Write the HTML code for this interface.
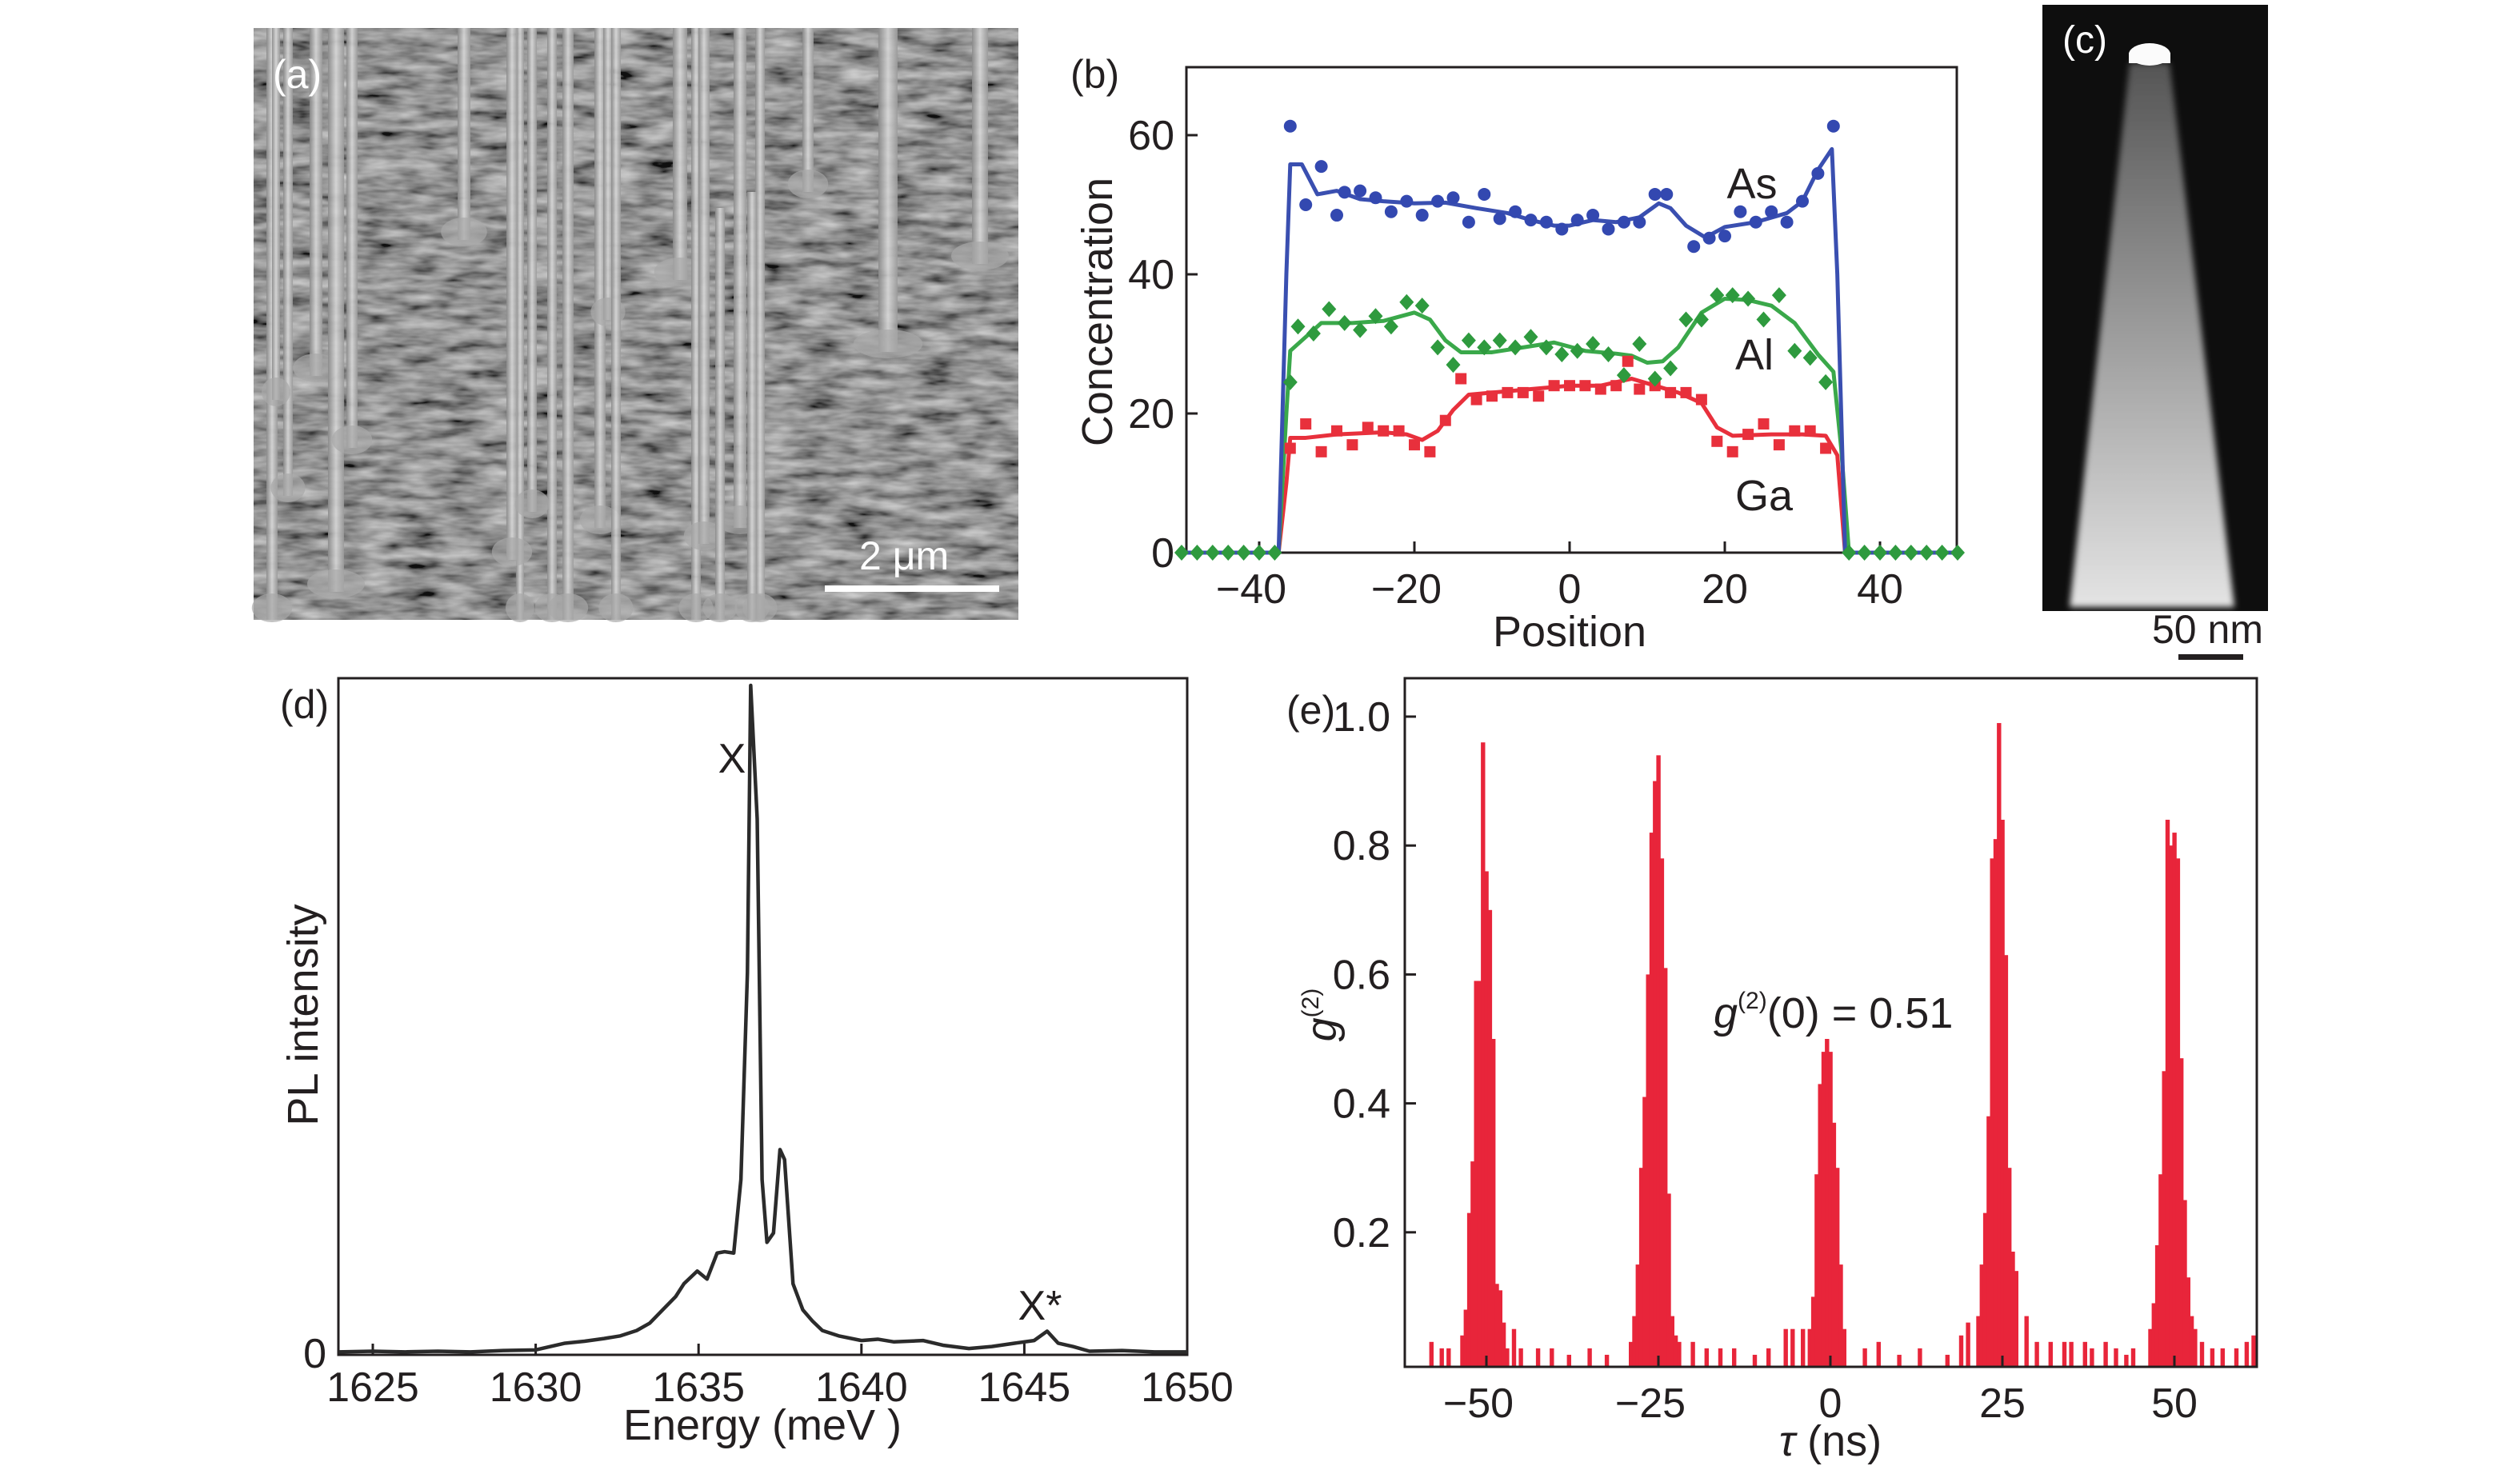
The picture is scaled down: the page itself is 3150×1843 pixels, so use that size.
<!DOCTYPE html>
<html><head><meta charset="utf-8"><style>
html,body{margin:0;padding:0;background:#fff;}
svg{display:block;}
text{font-family:"Liberation Sans Narrow","Liberation Sans",sans-serif;fill:#231f20;}
</style></head><body>
<svg id="fig" width="3150" height="1843" viewBox="0 0 3150 1843" xmlns="http://www.w3.org/2000/svg">
<defs>
<filter id="semn" x="0" y="0" width="100%" height="100%">
<feTurbulence type="fractalNoise" baseFrequency="0.02 0.08" numOctaves="3" seed="3" result="t"/>
<feColorMatrix in="t" type="matrix" values="1.1 0 0 0 -0.18  1.1 0 0 0 -0.18  1.1 0 0 0 -0.18  0 0 0 0 1"/>
</filter>
<filter id="blur2"><feGaussianBlur stdDeviation="4"/></filter>
<linearGradient id="cone" x1="0" y1="0" x2="0" y2="1">
<stop offset="0" stop-color="#555"/><stop offset="1" stop-color="#e4e4e4"/>
</linearGradient>
<linearGradient id="wire" x1="0" y1="0" x2="1" y2="0">
<stop offset="0" stop-color="#8a8a8a"/><stop offset="0.5" stop-color="#d8d8d8"/><stop offset="1" stop-color="#9a9a9a"/>
</linearGradient>
</defs>
<!-- panel a -->
<g>
<rect x="317" y="35" width="956" height="740" fill="#505050"/>
<rect x="317" y="35" width="956" height="740" filter="url(#semn)" opacity="0.8"/>
<g id="wires"></g>
<text x="341" y="110" font-size="50" style="fill:#fff">(a)</text>
<text x="1074" y="712" font-size="50" style="fill:#fff">2 μm</text>
<rect x="1031" y="732" width="218" height="8" fill="#fff"/>
</g>
<!-- panel c -->
<g>
<rect x="2553" y="6" width="282" height="758" fill="#0e0e0e"/>
<polygon points="2662,79 2712,79 2793,759 2587,759" fill="url(#cone)" filter="url(#blur2)"/>
<ellipse cx="2687" cy="68" rx="26" ry="14" fill="#fbfbfb"/>
<rect x="2661" y="66" width="52" height="13" fill="#fbfbfb"/>
<text x="2578" y="66" font-size="48" style="fill:#fff">(c)</text>
<text x="2690" y="804" font-size="50">50 nm</text>
<rect x="2723" y="818" width="81" height="7" fill="#231f20"/>
</g>
<g id="pb"></g>
<g id="pd"></g>
<g id="pe"></g>
</svg>
<script>
// ---------- Panel b data ----------
const bTicksX=[-40,-20,0,20,40];
const bTicksY=[0,20,40,60];
const asLineX=[-50,-37.5,-36.5,-36,-34.5,-32.5,-30,-27,-24,-20,-16,-12,-8,-5,-2,0,3,6,9,11.5,13,15,17.5,20,24,28,30,32,33.8,34.5,35.5,50];
const asLineY=[0,0,40,55.8,55.8,51.5,52,50.8,50.5,50.2,50.3,49.5,48.8,47.8,47,47,47.8,47.5,48.2,50.2,49.5,47,45.3,46.8,47.5,48.8,50.5,55,58,40,0,0];
const alLineX=[-50,-37.5,-36.5,-36,-34,-32,-28,-24,-20,-18,-16,-14,-10,-6,-2,2,6,8,10,12,14,17,20,23,26,29,32,34,35,36,50];
const alLineY=[0,0,20,29,31,33,33,33.3,34.5,33.5,30.5,28.8,28.8,29.5,30.2,29,28.6,28.3,27.3,27.5,29.5,34.5,36.5,36.3,35.5,33,28.5,26,15,0,0];
const gaLineX=[-50,-37.5,-36.5,-36,-34,-30,-24,-21,-19,-17,-15,-13,-10,-5,0,4,8,11,14,17,19,21,26,30,33,34.5,35.5,50];
const gaLineY=[0,0,10,16.5,16.5,17,17.3,17,16.2,17.5,20.5,22.7,23,23.5,24,24,25,24,23,21.5,18,16.8,17,17,16.8,14,0,0];
const asDotX=[-36,-34,-32,-30,-29,-27,-25,-23,-21,-19,-17,-15,-13,-11,-9,-7,-5,-3,-1,1,3,5,7,9,11,12.5,16,18,20,22,24,26,28,30,32,34];
const asDotY=[61.3,50,55.5,48.5,51.8,52,51,49,50.5,48.5,50.5,51,47.5,51.5,48,49,47.8,47.5,46.5,47.8,48.5,46.5,47.5,47.5,51.5,51.5,44,45.2,45.5,49,47.5,49,47.5,50.5,54.5,61.3];
const alDotX=[-36,-35,-33,-31,-29,-27,-25,-23,-21,-19,-17,-15,-13,-11,-9,-7,-5,-3,-1,1,3,5,7,9,11,13,15,17,19,21,23,25,27,29,31,33];
const alDotY=[24.5,32.5,31.5,35,33,32,34,32.5,36,35.5,29.5,27,30.5,29.5,30.5,29.5,31,29.5,28.5,29,30,28.5,25.5,30,25,26.5,33.5,33.5,37,37,36.5,33.5,37,29,28,24.5];
const gaDotX=[-36,-34,-32,-30,-28,-26,-24,-22,-20,-18,-16,-14,-12,-10,-8,-6,-4,-2,0,2,4,6,7.5,9,11,13,15,17,19,21,23,25,27,29,31,33];
const gaDotY=[15,18.5,14.5,17.5,15.5,18,17.5,17.5,15.5,14.5,19,25,22,22.5,23,23,22.5,24,24,24,23.5,24,27.5,23.5,24,23,23,22,16,14.5,17,18.5,15.5,17.5,17.5,15];
const zeroDotX=[-50,-48,-46,-44,-42,-40,-38,36,38,40,42,44,46,48,50];
const zeroDotY=[0,0,0,0,0,0,0,0,0,0,0,0,0,0,0];
// ---------- Panel d data ----------
const dTicksX=[1625,1630,1635,1640,1645,1650];
const plE=[1623.95,1625,1626,1627,1628,1629,1630,1630.9,1631.5,1632.1,1632.6,1633.1,1633.5,1633.9,1634.3,1634.55,1634.96,1635.26,1635.57,1635.8,1636.08,1636.3,1636.5,1636.6,1636.8,1636.95,1637.1,1637.3,1637.5,1637.64,1637.9,1638.2,1638.5,1638.8,1639.3,1640,1640.5,1641,1641.9,1642.5,1643.3,1644,1644.7,1645.3,1645.7,1646.04,1646.5,1647,1648,1649,1650];
const plI=[0.002,0.003,0.002,0.003,0.002,0.004,0.005,0.015,0.018,0.022,0.026,0.034,0.045,0.065,0.085,0.104,0.123,0.111,0.15,0.152,0.15,0.26,0.57,1.0,0.8,0.26,0.166,0.18,0.305,0.29,0.104,0.065,0.048,0.034,0.026,0.019,0.021,0.017,0.019,0.012,0.007,0.01,0.015,0.019,0.033,0.015,0.01,0.003,0.004,0.002,0.002];
// ---------- Panel e data ----------
const eTicksX=[-50,-25,0,25,50];
const eTicksY=[0.2,0.4,0.6,0.8,1.0];
const tauBins=[-58,-56.5,-55.5,-53.5,-53,-52.5,-52,-51.5,-51,-50.5,-50,-49.5,-49,-48.5,-48,-47.5,-47,-46,-45,-42.5,-40.5,-38,-35,-32.5,-29,-28.5,-28,-27.5,-27,-26.5,-26,-25.5,-25,-24.5,-24,-23.5,-23,-22.5,-22,-20,-18,-16,-14,-11,-9,-6.5,-5.5,-4,-3,-2.5,-2,-1.5,-1,-0.5,0,0.5,1,1.5,2,5,7,10,13,17,19,20,21.5,22,22.5,23,23.5,24,24.5,25,25.5,26,26.5,27,28.5,30,32,34,35,37,38,40,41.5,43,44,46.5,47,47.5,48,48.5,49,49.5,50,50.5,51,51.5,52,52.5,53,54,55.5,57,59,60.5,61.5];
const g2Vals=[0.03,0.02,0.02,0.04,0.08,0.23,0.31,0.59,0.59,0.96,0.76,0.70,0.50,0.12,0.11,0.06,0.02,0.05,0.02,0.02,0.02,0.01,0.02,0.01,0.03,0.07,0.15,0.30,0.41,0.60,0.82,0.90,0.94,0.78,0.61,0.26,0.07,0.04,0.03,0.03,0.02,0.02,0.02,0.01,0.02,0.05,0.05,0.05,0.05,0.10,0.29,0.43,0.48,0.50,0.48,0.37,0.30,0.15,0.05,0.02,0.03,0.01,0.02,0.01,0.04,0.06,0.07,0.15,0.23,0.38,0.78,0.81,0.99,0.84,0.63,0.30,0.17,0.14,0.07,0.03,0.03,0.03,0.03,0.03,0.02,0.03,0.02,0.01,0.02,0.05,0.09,0.18,0.29,0.45,0.84,0.80,0.82,0.78,0.47,0.25,0.13,0.07,0.05,0.03,0.02,0.02,0.02,0.03,0.04];

const NS='http://www.w3.org/2000/svg';
function mk(tag,attrs,parent){const e=document.createElementNS(NS,tag);for(const k in attrs)e.setAttribute(k,attrs[k]);parent.appendChild(e);return e;}
function txt(s,x,y,size,anchor,parent,extra){const t=mk('text',Object.assign({x:x,y:y,'font-size':size,'text-anchor':anchor||'start'},extra||{}),parent);t.textContent=s;return t;}

// ---------- SEM nanowires (decorative) ----------
(function(){
const g=document.getElementById('wires');
const w=[[340,35,775,14],[395,35,470,16],[420,35,740,20],[440,35,560,14],[360,35,620,12],[580,35,300,16],[650,35,775,10],[690,35,775,12],[640,35,700,14],[665,35,640,12],[710,35,775,14],[750,35,660,14],[760,35,400,12],[770,35,775,12],[850,35,350,18],[870,35,775,12],[880,35,680,14],[925,35,660,16],[950,35,775,12],[900,260,775,12],[940,240,775,12],[1110,35,440,24],[1225,35,330,20],[1010,35,240,14],[345,35,500,10]];
w.forEach((a,i)=>{const r=mk('rect',{x:a[0]-a[3]/2,y:a[1],width:a[3],height:a[2]-a[1],fill:'url(#wire)',opacity:0.9},g);


mk('ellipse',{cx:a[0],cy:Math.min(a[2],770)-10,rx:a[3]*1.8,ry:18,fill:'#a8a8a8',opacity:0.7},g);});
})();

// ---------- Panel b ----------
(function(){
const g=document.getElementById('pb');
const L=1483,R=2446,T=84,B=691;
const x=v=>1962+v*9.7;
const y=v=>B-v*8.7;
const frame=mk('rect',{x:L,y:T,width:R-L,height:B-T,fill:'none',stroke:'#231f20','stroke-width':3},g);


bTicksX.forEach(v=>{mk('line',{x1:x(v),x2:x(v),y1:B,y2:B-14,stroke:'#231f20','stroke-width':3},g);
const t=txt((v<0?'\u2212':'')+Math.abs(v),x(v)-(v<0?10:0),754,52,'middle',g);

});
bTicksY.forEach(v=>{mk('line',{x1:L,x2:L+14,y1:y(v),y2:y(v),stroke:'#231f20','stroke-width':3},g);
const t=txt(String(v),1468,y(v)+18,52,'end',g);

});
const xl=txt('Position',1962,808,54,'middle',g);


const yl=txt('Concentration',0,0,54,'middle',g,{transform:'translate(1390,390) rotate(-90)'});


const pl=txt('(b)',1338,110,50,'start',g);


function line(X,Y,col,name){const p=mk('polyline',{points:X.map((v,i)=>x(v)+','+y(Y[i])).join(' '),fill:'none',stroke:col,'stroke-width':5,'stroke-linejoin':'round'},g);

}
function dots(X,Y,col,shape,name){X.forEach((v,i)=>{let e;const cx=x(v),cy=y(Y[i]);
if(shape==='c')e=mk('circle',{cx:cx,cy:cy,r:8,fill:col},g);
else if(shape==='s')e=mk('rect',{x:cx-7,y:cy-7,width:14,height:14,fill:col},g);
else e=mk('polygon',{points:`${cx},${cy-10} ${cx+9},${cy} ${cx},${cy+10} ${cx-9},${cy}`,fill:col},g);

});}
line(gaLineX,gaLineY,'#e8303c','ga-fit-line');
line(alLineX,alLineY,'#3aa84a','al-fit-line');
line(asLineX,asLineY,'#3a4fb0','as-fit-line');
dots(gaDotX,gaDotY,'#e8303c','s','ga-point');
dots(alDotX,alDotY,'#2e9a3e','d','al-point');
dots(asDotX,asDotY,'#3348b0','c','as-point');
dots(zeroDotX,zeroDotY,'#2e9a3e','d','zero-point');
[['As',2190,248],['Al',2193,462],['Ga',2205,638]].forEach(a=>{const t=txt(a[0],a[1],a[2],54,'middle',g);

});
})();

// ---------- Panel d ----------
(function(){
const g=document.getElementById('pd');
const L=423,R=1484,T=848,B=1694;
const x=v=>466+(v-1625)*40.72;
const y=v=>1692-v*835;
const f=mk('rect',{x:L,y:T,width:R-L,height:B-T,fill:'none',stroke:'#231f20','stroke-width':3},g);


dTicksX.forEach(v=>{mk('line',{x1:x(v),x2:x(v),y1:B,y2:B-14,stroke:'#231f20','stroke-width':3},g);
const t=txt(String(v),x(v),1752,52,'middle',g);

});
const z=txt('0',408,1710,52,'end',g);


const xl=txt('Energy (meV )',953,1800,54,'middle',g);


const yl=txt('PL intensity',0,0,54,'middle',g,{transform:'translate(397,1269) rotate(-90)'});


const pl=txt('(d)',350,898,50,'start',g);


const p=mk('polyline',{points:plE.map((v,i)=>x(v)+','+y(plI[i])).join(' '),fill:'none',stroke:'#2b2b2b','stroke-width':4.5,'stroke-linejoin':'round'},g);


const a1=txt('X',915,966,52,'middle',g);


const a2=txt('X*',1300,1650,52,'middle',g);


})();

// ---------- Panel e ----------
(function(){
const g=document.getElementById('pe');
const L=1756,R=2821,T=848,B=1709;
const x=v=>2288+v*8.6;
const y=v=>1702-v*806;
tauBins.forEach((v,i)=>{const b=mk('rect',{x:x(v)-2.6,y:y(g2Vals[i]),width:5.4,height:B-y(g2Vals[i]),fill:'#e8253a'},g);

});
const f=mk('rect',{x:L,y:T,width:R-L,height:B-T,fill:'none',stroke:'#231f20','stroke-width':3},g);


eTicksX.forEach(v=>{mk('line',{x1:x(v),x2:x(v),y1:B,y2:B-14,stroke:'#231f20','stroke-width':3},g);
const t=txt((v<0?'\u2212':'')+Math.abs(v),x(v)-(v<0?10:0),1772,52,'middle',g);

});
eTicksY.forEach(v=>{mk('line',{x1:L,x2:L+14,y1:y(v),y2:y(v),stroke:'#231f20','stroke-width':3},g);
const t=txt(v.toFixed(1),1738,y(v)+18,52,'end',g);

});
const xl=txt('',2288,1820,54,'middle',g);
xl.innerHTML='<tspan font-style="italic">τ</tspan> (ns)';


const yl=txt('',0,0,54,'middle',g,{transform:'translate(1670,1269) rotate(-90)'});
yl.innerHTML='<tspan font-style="italic">g</tspan><tspan font-size="30" dy="-22">(2)</tspan>';


const pl=txt('(e)',1608,905,50,'start',g);


const an=txt('',2142,1285,54,'start',g);
an.innerHTML='<tspan font-style="italic">g</tspan><tspan font-size="30" dy="-24">(2)</tspan><tspan dy="24">(0) = 0.51</tspan>';


})();
</script>
</body></html>
